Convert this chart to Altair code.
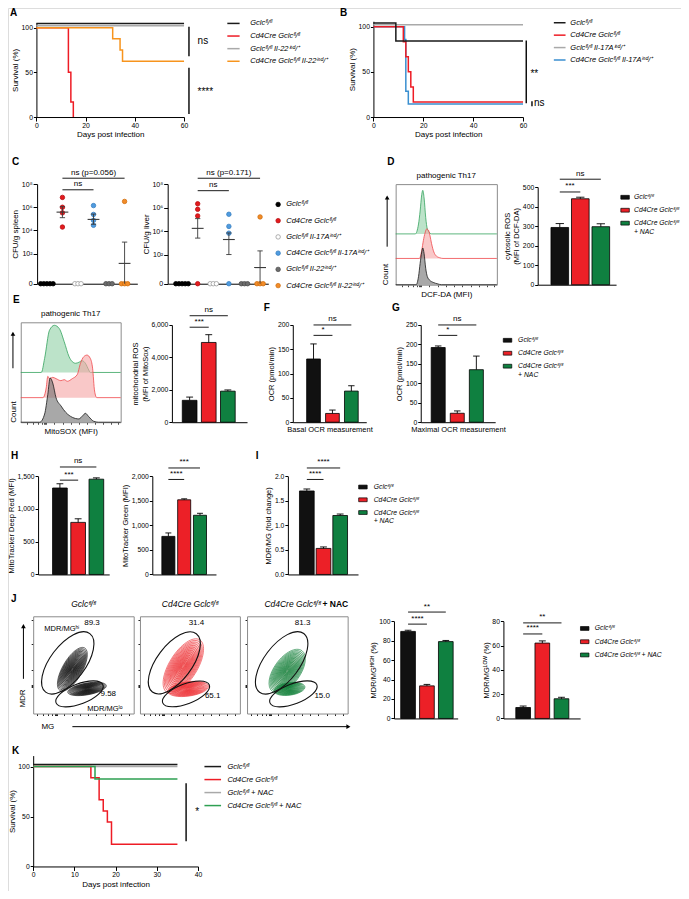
import math
import altair as alt
import pandas as pd

W, H = 673, 883
FONT = "Liberation Sans"
SX, SY = 337 / 344, 442 / 450
FR = "#8c8c8c"


def PX(x):
    return (x - 345) * SX + 337


def PY(y):
    return (y - 450) * SY + 442


FL = "ᶠˡ/ᶠˡ"
IND = "ⁱⁿᵈ/⁺"

# ---------------- data ----------------
A_LABELS = [f"Gclc{FL}", f"Cd4Cre Gclc{FL}", f"Gclc{FL} Il-22{IND}", f"Cd4Cre Gclc{FL} Il-22{IND}"]
A_COLORS = ["#1a1a1a", "#ee1c25", "#a9a9a9", "#f7941d"]
A_T = [[0, 60], [0, 13, 14, 15], [0, 60], [0, 31, 34, 35, 60]]
A_S = [[104.5, 104.5], [100, 50, 16.7, 0], [102, 102], [100, 87.5, 75, 62.5, 62.5]]
A_SIG = [[62, 68, 101, "ns", 65.5, 84.6], [62, 3.3, 55, "****", 65.5, 27.5]]

B_LABELS = [f"Gclc{FL}", f"Cd4Cre Gclc{FL}", f"Gclc{FL} Il-17A{IND}", f"Cd4Cre Gclc{FL} Il-17A{IND}"]
B_COLORS = ["#1a1a1a", "#ee1c25", "#a9a9a9", "#3a8fd0"]
B_T = [[0, 9, 60], [0, 12, 13, 14, 15, 16, 60], [0, 60], [0, 12.5, 13, 14, 60]]
B_S = [[104, 84, 84], [100, 83.3, 66.7, 50, 33.3, 16.7, 16.7], [102, 102], [100, 85.7, 28.6, 14.3, 14.3]]
B_SIG = [[61.3, 15.2, 84.8, "**", 63.0, 48], [63.6, 12, 17.4, "ns", 64.4, 15]]

K_LABELS = [f"Gclc{FL}", f"Cd4Cre Gclc{FL}", f"Gclc{FL} + NAC", f"Cd4Cre Gclc{FL} + NAC"]
K_COLORS = ["#1a1a1a", "#ee1c25", "#a9a9a9", "#2ea052"]
K_T = [[0, 35], [0, 14, 16, 17, 18, 19, 35], [0, 35], [0, 15, 35]]
K_S = [[102, 102], [100, 88.9, 66.7, 55.6, 44.4, 22.2, 22.2], [100, 100], [100, 87.5, 87.5]]
K_SIG = [[37.1, 25.3, 83.3, "*", 39.3, 54.8]]

C_GROUPS = [f"Gclc{FL}", f"Cd4Cre Gclc{FL}", f"Gclc{FL} Il-17A{IND}", f" Cd4Cre Gclc{FL} Il-17A{IND}",
            f"Gclc{FL} Il-22{IND}", f"Cd4Cre Gclc{FL} Il-22{IND}"]
C_FILL = ["#000000", "#e41a1c", "#ffffff", "#4f9be0", "#6d6d6d", "#f28c28"]
C_STROKE = ["#000000", "#b81015", "#9a9a9a", "#3a80c0", "#4d4d4d", "#d07010"]
SPLEEN = [[0, 0, 0, 0, 0], [7.1e6, 1.0e6, 3.3e5, 1.95e4], [0, 0, 0],
          [1.4e6, 2.4e5, 7.4e4, 2.75e4], [0, 0, 0], [3.2e6, 0, 0, 0]]
LIVER = [[0, 0, 0, 0, 0], [2.1e6, 7.1e5, 1.95e5, 0], [0, 0, 0],
         [2.7e5, 2.5e4, 6.6e3, 0], [0, 0, 0], [1.6e5, 0, 0, 0]]
SP_MEAN = [None, 5.58, None, 4.95, None, 1.15]
SP_LO = [None, 5.1, None, 4.53, None, None]
SP_HI = [None, 6.05, None, 5.41, None, 2.99]
LI_MEAN = [None, 4.23, None, 3.28, None, 0.89]
LI_LO = [None, 3.4, None, 2.0, None, None]
LI_HI = [None, 5.06, None, 3.84, None, 2.31]
SP_SIG = [["ns", 2, 4, 7.51], ["ns (p=0.056)", 2, 6, 8.51]]
LI_SIG = [["ns", 2, 4, 7.44], ["ns (p=0.171)", 2, 6, 8.5]]

GRP3 = [f"Gclc{FL}", f"Cd4Cre Gclc{FL}", f"Cd4Cre Gclc{FL}|+ NAC"]
GRP3J = [f"Gclc{FL}", f"Cd4Cre Gclc{FL}", f"Cd4Cre Gclc{FL} + NAC"]
COL3 = ["#111111", "#ec2027", "#0f8040"]

D_VALS, D_ERR = [293, 440, 297], [20, 8, 15]
E_VALS, E_ERR = [1350, 4920, 1915], [200, 480, 75]
F_VALS, F_ERR = [130, 18, 64], [31, 7, 11]
G_VALS, G_ERR = [192, 23, 135], [4, 6, 35]
H1_VALS, H1_ERR = [1320, 795, 1455], [65, 55, 20]
H2_VALS, H2_ERR = [775, 1520, 1205], [70, 20, 40]
I_VALS, I_ERR = [1.70, 0.53, 1.20], [0.04, 0.03, 0.03]
J1_VALS, J1_ERR = [89.5, 33.5, 79.0], [1.2, 1.5, 1.2]
J2_VALS, J2_ERR = [9.0, 62.0, 16.2], [1.2, 1.8, 1.2]

D_SIG = [["***", 1, 2, 474.8], ["ns", 1, 3, 540.2]]
E_SIG = [["***", 1, 2, 5861], ["ns", 1, 3, 6570]]
F_SIG = [["*", 1, 2, 178.6], ["ns", 1, 3, 200]]
G_SIG = [["*", 1, 2, 223.2], ["ns", 1, 3, 250]]
H1_SIG = [["***", 1, 2, 1440], ["ns", 1, 3, 1641]]
H2_SIG = [["****", 1, 2, 1934], ["***", 1, 3, 2168]]
I_SIG = [["****", 1, 2, 1.934], ["****", 1, 3, 2.168]]
J1_SIG = [["****", 1, 2, 97.0], ["**", 1, 3, 109.4]]
J2_SIG = [["****", 1, 2, 69.5], ["**", 1, 3, 78.6]]

D_HIST = [
    ([19.4, 22.6, 24.2, 25.8, 26.8, 28.1, 29.7, 31.3, 33.2, 35.5],
     [0, 9.8, 22.8, 39.1, 43.3, 35.8, 16.3, 4.9, 1.6, 0], 50.5),
    ([23.5, 25.8, 27.4, 29.0, 30.6, 32.3, 33.9, 35.5, 37.7, 40.3, 43.5, 46.8],
     [0, 8.1, 17.9, 25.1, 29.3, 28.3, 22.8, 14.7, 6.5, 2.3, 0.7, 0], 26.1),
    ([20.3, 22.6, 24.2, 25.8, 26.8, 28.1, 29.7, 31.3, 33.9, 37.1, 41.9, 45.2],
     [0, 8.1, 21.2, 32.6, 36.5, 30.9, 16.3, 8.1, 4.2, 2.3, 0.7, 0], 0),
]
E_HIST = [
    ([20.6, 23.9, 28.8, 33.7, 38.6, 43.5, 48.4, 51.6, 54.9, 58.2, 61.4, 64.7, 68.0, 69.6],
     [0, 14.1, 42.3, 47.2, 43.9, 30.8, 15.7, 10.8, 9.2, 10.2, 11.8, 9.2, 2.6, 0], 49.8),
    ([22.2, 25.5, 27.1, 28.8, 32.0, 35.3, 40.2, 43.5, 46.7, 51.6, 56.5, 59.8, 63.1, 66.3, 69.6, 71.9, 73.9, 76.1],
     [0, 9.8, 21.3, 19.0, 20.3, 19.0, 17.0, 18.0, 16.4, 19.0, 23.0, 34.4, 41.0, 42.6, 39.3, 29.5, 6.6, 0], 24.6),
    ([19.0, 23.9, 27.1, 29.4, 32.0, 35.3, 40.2, 45.1, 51.6, 58.2, 62.1, 64.7, 68.0, 72.9, 77.8],
     [0, 8.2, 27.9, 44.3, 39.3, 24.6, 16.4, 9.8, 4.9, 3.3, 6.6, 8.9, 5.6, 1.0, 0], 0),
]
HIST_FILL = ["#8fd0a5", "#f5a3a3", "#6e6e6e"]
HIST_LINE = ["#35a35e", "#f0474b", "#1a1a1a"]

GATES = [[34.4, 52.1, 73, 0.48, 53], [46.1, 20.2, 50, 0.40, 21]]
BLOBS = [
    [[39.0, 45.5, 49, 0.40, 60], [53.6, 25.3, 39, 0.30, 10]],
    [[43.4, 48.8, 62, 0.45, 58], [48.3, 25.3, 41, 0.35, 8]],
    [[39.9, 43.7, 50, 0.52, 54], [42.2, 25.3, 31, 0.40, 8]],
]
LEVELS = [1.0, 0.94, 0.88, 0.82, 0.76, 0.70, 0.64, 0.58, 0.52, 0.46, 0.40, 0.34, 0.28, 0.22, 0.16, 0.1]
J_COLORS = ["#151515", "#ee3338", "#17833f"]
J_PCT = [["89.3", "9.58"], ["31.4", "65.1"], ["81.3", "15.0"]]
J_PCT_U = [[58.5, 74.7], [56.5, 72.8], [55.2, 74.7]]
J_PCT_V = [[93.2, 20.2], [93.2, 18.5], [93.2, 18.5]]
J_BOXES = [(26.7, 619.3, 129.3, 718.3), (135.7, 619.3, 237.7, 718.3), (245, 619.3, 347.7, 718.3)]

LETTERS = ["A", "B", "C", "D", "E", "F", "G", "H", "I", "J", "K"]
LET_X = [3, 340, 5, 388, 6, 262, 393, 4, 254, 4, 5]
LET_Y = [5, 5, 157, 157, 297, 305, 305, 456, 456, 602, 756]

# ---------------- helpers ----------------
AXS = dict(grid=False, domainColor="#000", domainWidth=1, tickColor="#000", tickWidth=1, tickSize=3,
           labelFont=FONT, labelFontSize=6.8, labelColor="#000", labelPadding=1, labelFlush=False,
           titleFont=FONT, titleFontSize=7.5, titleFontWeight="normal", titleColor="#000", titlePadding=1.5)


def _ax(orient, off, kw):
    d = dict(AXS)
    d.update(kw)
    return alt.Axis(orient=orient, offset=off, **d)


def ax_left(x, **kw):
    return _ax("left", -PX(x), kw)


def ax_bottom(y, **kw):
    return _ax("bottom", PY(y) - H, kw)


def ax_top(y, **kw):
    return _ax("top", -PY(y), kw)


def ax_right(x, **kw):
    return _ax("right", PX(x) - W, kw)


def xsc(dom, a, b):
    return alt.Scale(domain=dom, range=[PX(a), PX(b)], nice=False, zero=False)


def ysc(dom, bottom, top):
    return alt.Scale(domain=dom, range=[PY(bottom), PY(top)], nice=False, zero=False)


def panel(*layers):
    return alt.layer(*layers).resolve_axis(x="independent", y="independent")


def legend(x_sym_left, sym_w, y_row1, text_x, spacing, size, stroke_w, **kw):
    cell = max(math.ceil(math.sqrt(size) + stroke_w), kw.get("labelFontSize", 7.5))
    lx = PX(x_sym_left) - (cell - sym_w * SX) / 2
    ly = PY(y_row1) - cell / 2
    d = dict(orient="none", legendX=lx, legendY=ly, title=None, padding=0, labelLimit=0,
             labelFont=FONT, labelFontSize=7.5, labelFontStyle="italic", labelColor="#000",
             symbolSize=size, symbolStrokeWidth=stroke_w,
             labelOffset=PX(text_x) - lx - cell, rowPadding=spacing * SY - cell)
    d.update(kw)
    return alt.Legend(**d)


def text_chart(df, xs, ys, **mk):
    m = dict(font=FONT, fontSize=7.5, color="#000")
    m.update(mk)
    return alt.Chart(df).mark_text(**m).encode(
        x=alt.X("x:Q", scale=xs, axis=None), y=alt.Y("y:Q", scale=ys, axis=None), text="lab:N")


def sig_layers(sig, xs, ys, size=8):
    df = pd.DataFrame(sig, columns=["lab", "g1", "g2", "yv"])
    r = alt.Chart(df).mark_rule(color="#000", strokeWidth=0.9).encode(
        x=alt.X("g1:Q", scale=xs, axis=None), x2="g2:Q", y=alt.Y("yv:Q", scale=ys, axis=None))
    t = alt.Chart(df).transform_calculate(xm="(datum.g1 + datum.g2) / 2").mark_text(
        font=FONT, fontSize=size, baseline="bottom", dy=-1.5, color="#000").encode(
        x=alt.X("xm:Q", scale=xs, axis=None), y=alt.Y("yv:Q", scale=ys, axis=None), text="lab:N")
    return [r, t]


# ---------------- survival ----------------
def survival(labels, colors, T, S, order, g, sig, leg):
    xs = xsc([0, g["tmax"]], g["x0"], g["x1"])
    ppu = (g["y0"] - g["y100"]) / 100
    ys = ysc([0, g["ymax"]], g["y0"], g["y0"] - g["ymax"] * ppu)
    cs = alt.Scale(domain=labels, range=colors)
    layers = []
    for k, i in enumerate(order):
        df = pd.DataFrame({"t": T[i], "s": S[i], "grp": labels[i]})
        first = k == 0
        layers.append(alt.Chart(df).mark_line(interpolate="step-after", strokeWidth=1.5).encode(
            x=alt.X("t:Q", scale=xs, axis=(ax_bottom(g["y0"], values=g["xt"], title="Days post infection",
                                                      tickSize=4, titlePadding=2, titleFontSize=8)
                                            if first else None)),
            y=alt.Y("s:Q", scale=ys, axis=(ax_left(g["x0"], values=[0, 50, 100], title="Survival (%)",
                                                    tickSize=3, titleFontSize=8) if first else None)),
            color=alt.Color("grp:N", scale=cs, legend=(leg if first else None))))
    sdf = pd.DataFrame(sig, columns=["t", "y1", "y2", "lab", "tt", "ty"])
    layers.append(alt.Chart(sdf).mark_rule(color="#000", strokeWidth=1.4).encode(
        x=alt.X("t:Q", scale=xs, axis=None), y=alt.Y("y1:Q", scale=ys, axis=None), y2="y2:Q"))
    layers.append(alt.Chart(sdf).mark_text(font=FONT, fontSize=10, align="left", baseline="middle",
                                            color="#000").encode(
        x=alt.X("tt:Q", scale=xs, axis=None), y=alt.Y("ty:Q", scale=ys, axis=None), text="lab:N"))
    return panel(*layers)


# ---------------- CFU dot plots ----------------
def cfu(values, mean, lo, hi, g, sig, ytitle, leg):
    unit = (g["c6"] - g["c1"]) / 5
    xs = xsc([1 - (g["c1"] - g["ax"]) / unit, 6 + (g["xe"] - g["c6"]) / unit], g["ax"], g["xe"])
    dec = (g["y2"] - g["y8"]) / 6
    zero = 2 - (g["yz"] - g["y2"]) / dec
    ys = ysc([zero, 8], g["yz"], g["y8"])
    rows = [(C_GROUPS[i], i + 1, v) for i, vs in enumerate(values) for v in vs]
    df = pd.DataFrame(rows, columns=["grp", "idx", "cfu"])
    fs = alt.Scale(domain=C_GROUPS, range=C_FILL)
    ss = alt.Scale(domain=C_GROUPS, range=C_STROKE)
    lab = ("datum.value < 1 ? '0' : '10' + (datum.value == 2 ? '²' : datum.value == 4 ? '⁴' : "
           "datum.value == 6 ? '⁶' : '⁸')")
    pts = alt.Chart(df).transform_calculate(
        ly=f"datum.cfu > 0 ? log(datum.cfu) / LN10 : {zero}"
    ).transform_joinaggregate(n="count()", groupby=["grp", "ly"]).transform_window(
        r="row_number()", groupby=["grp", "ly"]
    ).transform_calculate(xo="datum.idx + (datum.r - (datum.n + 1) / 2) * 0.2").mark_point(
        filled=True, shape="circle", size=20, strokeWidth=0.8, opacity=1).encode(
        x=alt.X("xo:Q", scale=xs, axis=ax_bottom(g["yz"], ticks=False, labels=False, title=None)),
        y=alt.Y("ly:Q", scale=ys, axis=ax_left(g["ax"], values=[zero, 2, 4, 6, 8], labelExpr=lab,
                                                title=ytitle, tickSize=4, titleFontSize=8,
                                                labelFontSize=7)),
        fill=alt.Fill("grp:N", scale=fs, legend=leg),
        stroke=alt.Stroke("grp:N", scale=ss, legend=leg))
    mrows = [(i + 1, mean[i], zero if lo[i] is None else lo[i], hi[i], lo[i] is not None)
             for i in range(6) if mean[i] is not None]
    mdf = pd.DataFrame(mrows, columns=["idx", "m", "lo", "hi", "haslo"])
    base = alt.Chart(mdf).transform_calculate(
        a="datum.idx - 0.38", b="datum.idx + 0.38", ca="datum.idx - 0.17", cb="datum.idx + 0.17")
    col = "#3a3a3a"
    vr = base.mark_rule(color=col, strokeWidth=0.9).encode(
        x=alt.X("idx:Q", scale=xs, axis=None), y=alt.Y("lo:Q", scale=ys, axis=None), y2="hi:Q")
    mr = base.mark_rule(color=col, strokeWidth=1.1).encode(
        x=alt.X("a:Q", scale=xs, axis=None), x2="b:Q", y=alt.Y("m:Q", scale=ys, axis=None))
    hc = base.mark_rule(color=col, strokeWidth=0.9).encode(
        x=alt.X("ca:Q", scale=xs, axis=None), x2="cb:Q", y=alt.Y("hi:Q", scale=ys, axis=None))
    lc = base.transform_filter("datum.haslo").mark_rule(color=col, strokeWidth=0.9).encode(
        x=alt.X("ca:Q", scale=xs, axis=None), x2="cb:Q", y=alt.Y("lo:Q", scale=ys, axis=None))
    return panel(pts, vr, mr, hc, lc, *sig_layers(sig, xs, ys))


# ---------------- bar charts ----------------
def bars(vals, errs, labels, g, sig, ytitle, xtitle=None, leg=None, fmt=None):
    unit = (g["c3"] - g["c1"]) / 2
    xs = xsc([1 - (g["c1"] - g["ax"]) / unit, 3 + (g["xe"] - g["c3"]) / unit], g["ax"], g["xe"])
    ys = ysc([0, g["vmax"]], g["y0"], g["yt"])
    cap = g["bw"] * 0.27 / unit
    df = pd.DataFrame({"grp": labels, "pos": [1, 2, 3], "val": vals, "err": errs})
    cs = alt.Scale(domain=labels, range=COL3)
    yk = dict(values=g["ticks"], title=ytitle, tickSize=3)
    if fmt:
        yk["format"] = fmt
    bar = alt.Chart(df).mark_bar(size=g["bw"] * SX, stroke="#000", strokeWidth=0.8).encode(
        x=alt.X("pos:Q", scale=xs, axis=ax_bottom(g["y0"], ticks=False, labels=False, title=xtitle,
                                                   titlePadding=3)),
        y=alt.Y("val:Q", scale=ys, axis=ax_left(g["ax"], **yk)),
        fill=alt.Fill("grp:N", scale=cs, legend=leg))
    base = alt.Chart(df).transform_calculate(
        top="datum.val + datum.err", cl=f"datum.pos - {cap}", cr=f"datum.pos + {cap}")
    eb = base.mark_rule(color="#000", strokeWidth=0.9).encode(
        x=alt.X("pos:Q", scale=xs, axis=None), y=alt.Y("val:Q", scale=ys, axis=None), y2="top:Q")
    ec = base.mark_rule(color="#000", strokeWidth=0.9).encode(
        x=alt.X("cl:Q", scale=xs, axis=None), x2="cr:Q", y=alt.Y("top:Q", scale=ys, axis=None))
    return panel(bar, eb, ec, *sig_layers(sig, xs, ys))


def bar_legend(sym_cx, y_row1, text_x, spacing, **kw):
    size = 72
    return legend(sym_cx - 4.25, 8.5, y_row1, text_x, spacing, size, 0.7,
                  symbolType="M-1,-0.45H1V0.45H-1Z", symbolStrokeColor="#000", labelFontSize=6.8, **kw)


# ---------------- frames (hist / flow boxes) ----------------
def frame(xs, ys, box, bottom_kw, left_kw):
    l, t, r, b = box
    df = pd.DataFrame({"x": [0, 100], "y": [0, 100]})
    f1 = alt.Chart(df).mark_point(opacity=0).encode(
        x=alt.X("x:Q", scale=xs, axis=ax_bottom(b, domainColor=FR, **bottom_kw)),
        y=alt.Y("y:Q", scale=ys, axis=ax_left(l, domainColor=FR, **left_kw)))
    f2 = alt.Chart(df).mark_point(opacity=0).encode(
        x=alt.X("x:Q", scale=xs, axis=ax_top(t, ticks=False, labels=False, title=None, domainColor=FR)),
        y=alt.Y("y:Q", scale=ys, axis=ax_right(r, ticks=False, labels=False, title=None, domainColor=FR)))
    return [f1, f2]


def arrow(xs, ys, x1, y1, x2, y2, shape):
    df = pd.DataFrame({"x": [x1], "y": [y1], "x2": [x2], "y2": [y2]})
    ln = alt.Chart(df).mark_rule(color="#000", strokeWidth=1).encode(
        x=alt.X("x:Q", scale=xs, axis=None), x2="x2:Q", y=alt.Y("y:Q", scale=ys, axis=None), y2="y2:Q")
    hd = alt.Chart(df).mark_point(shape=shape, filled=True, size=22, color="#000", opacity=1).encode(
        x=alt.X("x2:Q", scale=xs, axis=None), y=alt.Y("y2:Q", scale=ys, axis=None))
    return [ln, hd]


HIST_TICKS = [6, 12, 17, 21, 23, 24, 25, 33, 42, 50, 58, 66, 74, 82, 90, 97]


def hist(box, curves, xlabel, count_pad, arr):
    l, t, r, b = box
    xs = xsc([0, 100], l, r)
    ys = ysc([0, 100], b, t)
    layers = []
    for k, (cx, ch, base) in enumerate(curves):
        df = pd.DataFrame({"x": [0] + cx + [100], "h": [0] + ch + [0]})
        df["base"] = base
        c = alt.Chart(df).transform_calculate(top="datum.base + datum.h")
        layers.append(c.mark_area(interpolate="monotone", color=HIST_FILL[k], opacity=0.6).encode(
            x=alt.X("x:Q", scale=xs, axis=None), y=alt.Y("top:Q", scale=ys, axis=None), y2="base:Q"))
        layers.append(c.mark_line(interpolate="monotone", color=HIST_LINE[k], strokeWidth=0.8).encode(
            x=alt.X("x:Q", scale=xs, axis=None), y=alt.Y("top:Q", scale=ys, axis=None)))
    layers += frame(xs, ys, box,
                    dict(values=HIST_TICKS, labels=False, tickSize=2, tickColor="#444", title=xlabel,
                         titlePadding=3, titleFontSize=8),
                    dict(ticks=False, labels=False, title="Count", titleAnchor="start", titlePadding=count_pad,
                         titleFontSize=8))
    layers += arrow(xs, ys, arr[0], arr[1], arr[0], arr[2], "triangle-up")
    tdf = pd.DataFrame({"x": [50], "y": [108], "lab": ["pathogenic Th17"]})
    layers.append(text_chart(tdf, xs, ys, fontSize=8, baseline="middle"))
    return panel(*layers)


def ellipse_path(r):
    return f"M-1,0A1,{r} 0 1,0 1,0A1,{r} 0 1,0 -1,0Z"


def flow(k):
    box = J_BOXES[k]
    l, t, r, b = box
    xs = xsc([0, 100], l, r)
    ys = ysc([0, 100], b, t)
    bw = PX(r) - PX(l)
    sz = alt.Scale(type="pow", exponent=2, domain=[0, 100], range=[0, bw * bw])
    rows = []
    for (u, v, d, rr, tilt) in BLOBS[k]:
        for f in LEVELS:
            rows.append((u, v, d * f, 360 - tilt, ellipse_path(rr)))
    cdf = pd.DataFrame(rows, columns=["x", "y", "d", "rot", "path"])
    cont = alt.Chart(cdf).mark_point(filled=True, fill=J_COLORS[k], fillOpacity=0.07, stroke=J_COLORS[k],
                                     strokeOpacity=0.95, strokeWidth=0.6).encode(
        x=alt.X("x:Q", scale=xs, axis=None), y=alt.Y("y:Q", scale=ys, axis=None),
        size=alt.Size("d:Q", scale=sz, legend=None),
        angle=alt.Angle("rot:Q", scale=None),
        shape=alt.Shape("path:N", scale=None))
    gdf = pd.DataFrame([(u, v, d, 360 - tilt, ellipse_path(rr)) for (u, v, d, rr, tilt) in GATES],
                       columns=["x", "y", "d", "rot", "path"])
    gate = alt.Chart(gdf).mark_point(filled=False, strokeWidth=1.1, color="#111", opacity=1).encode(
        x=alt.X("x:Q", scale=xs, axis=None), y=alt.Y("y:Q", scale=ys, axis=None),
        size=alt.Size("d:Q", scale=sz, legend=None),
        angle=alt.Angle("rot:Q", scale=None),
        shape=alt.Shape("path:N", scale=None))
    pdf = pd.DataFrame({"x": J_PCT_U[k], "y": J_PCT_V[k], "lab": J_PCT[k]})
    layers = [cont, gate, text_chart(pdf, xs, ys, fontSize=8, baseline="middle")]
    layers += frame(xs, ys, box,
                    dict(values=[4, 10, 15, 19, 22, 23, 24, 31, 39, 47, 55, 63, 71, 79, 87, 95],
                         labels=False, tickSize=2, tickColor="#222", title=None),
                    dict(values=[27, 28, 29, 45, 71, 96], labels=False, tickSize=2, tickColor="#222",
                         title=None))
    if k == 0:
        t1 = pd.DataFrame({"x": [50], "y": [112.7], "lab": [f"Gclc{FL}"]})
        layers.append(text_chart(t1, xs, ys, fontSize=8.5, fontStyle="italic", baseline="middle"))
        gl = pd.DataFrame({"x": [28.6, 71.4], "y": [86.5, 5.1], "lab": ["MDR/MGʰⁱ", "MDR/MGˡᵒ"]})
        layers.append(text_chart(gl, xs, ys, fontSize=7.5, baseline="middle"))
        layers += arrow(xs, ys, -9.7, 35.7, -9.7, 89.9, "triangle-up")
        layers += arrow(xs, ys, 39, -13.5, 313.6, -13.5, "triangle-right")
        ml = pd.DataFrame({"x": [-9.7], "y": [15.5], "lab": ["MDR"]})
        layers.append(text_chart(ml, xs, ys, fontSize=8, angle=270, baseline="middle"))
        gl2 = pd.DataFrame({"x": [14.6], "y": [-13.5], "lab": ["MG"]})
        layers.append(text_chart(gl2, xs, ys, fontSize=8, baseline="middle"))
    elif k == 1:
        t1 = pd.DataFrame({"x": [50], "y": [112.7], "lab": [f"Cd4Cre Gclc{FL}"]})
        layers.append(text_chart(t1, xs, ys, fontSize=8.5, fontStyle="italic", baseline="middle"))
    else:
        t1 = pd.DataFrame({"x": [73], "y": [112.7], "lab": [f"Cd4Cre Gclc{FL}"]})
        layers.append(text_chart(t1, xs, ys, fontSize=8.5, fontStyle="italic", baseline="middle", align="right"))
        t2 = pd.DataFrame({"x": [75], "y": [112.7], "lab": ["+ NAC"]})
        layers.append(text_chart(t2, xs, ys, fontSize=8.5, fontWeight="bold", baseline="middle", align="left"))
    return panel(*layers)


# ---------------- build panels ----------------
panels = []

panels.append(survival(A_LABELS, A_COLORS, A_T, A_S, [1, 3, 2, 0],
                       dict(x0=30, x1=180.7, tmax=60, y0=111, y100=20, ymax=105.5, xt=[0, 20, 40, 60]),
                       A_SIG, legend(225, 12.3, 15.7, 248.3, 15.9, 151, 1.5, symbolType="stroke")))
panels.append(survival(B_LABELS, B_COLORS, B_T, B_S, [3, 1, 2, 0],
                       dict(x0=374, x1=526.7, tmax=60, y0=111, y100=19, ymax=106, xt=[0, 20, 40, 60]),
                       B_SIG, legend(558.3, 11.7, 15, 575, 15.7, 137, 1.5, symbolType="stroke")))
panels.append(survival(K_LABELS, K_COLORS, K_T, K_S, [2, 0, 1, 3],
                       dict(x0=26.7, x1=195, tmax=40, y0=874, y100=772.3, ymax=111, xt=[0, 10, 20, 30, 40]),
                       K_SIG, legend(201.7, 16.6, 772.3, 225, 16.2, 276, 1.5, symbolType="stroke")))

panels.append(cfu(SPLEEN, SP_MEAN, SP_LO, SP_HI,
                  dict(ax=30.7, xe=133, c1=40.7, c6=120, yz=280.7, y8=179.3, y2=250),
                  SP_SIG, "CFU/g spleen", None))
panels.append(cfu(LIVER, LI_MEAN, LI_LO, LI_HI,
                  dict(ax=164, xe=266.7, c1=178.7, c6=258.3, yz=280.7, y8=179.3, y2=251),
                  LI_SIG, "CFU/g liver",
                  legend(274.5, 4.5, 200, 285, 15, 20, 0.8, symbolType="circle")))

panels.append(hist((396.7, 179.3, 500, 281.7), D_HIST, "DCF-DA (MFI)", 6, (-8.4, 37.8, 86.6)))
panels.append(hist((14, 320, 116, 421.7), E_HIST, "MitoSOX (MFI)", 3, (-7.8, 54, 88.5)))

panels.append(bars(D_VALS, D_ERR, GRP3,
                   dict(ax=541.7, xe=621.7, c1=561.7, c3=609.7, y0=281.7, yt=182.3, vmax=500,
                        ticks=[0, 100, 200, 300, 400, 500], bw=18),
                   D_SIG, ["cytosolic ROS", "(MFI of DCF-DA)"],
                   leg=bar_legend(630.9, 192.7, 640, 14.2, labelExpr="split(datum.label, '|')")))
panels.append(bars(E_VALS, E_ERR, GRP3,
                   dict(ax=168.3, xe=245, c1=183.3, c3=228.3, y0=421.7, yt=322.7, vmax=6000,
                        ticks=[0, 2000, 4000, 6000], bw=15),
                   E_SIG, ["mitochondrial ROS", "(MFI of MitoSox)"]))
panels.append(bars(F_VALS, F_ERR, GRP3,
                   dict(ax=291.7, xe=366.7, c1=310.3, c3=355, y0=421.7, yt=322.7, vmax=200,
                        ticks=[0, 50, 100, 150, 200], bw=14),
                   F_SIG, "OCR (pmol/min)", xtitle="Basal OCR measurement"))
panels.append(bars(G_VALS, G_ERR, GRP3,
                   dict(ax=422.3, xe=498.3, c1=437, c3=482, y0=421.7, yt=322.7, vmax=250,
                        ticks=[0, 50, 100, 150, 200, 250], bw=14.3),
                   G_SIG, "OCR (pmol/min)", xtitle="Maximal OCR measurement",
                   leg=bar_legend(510.9, 338.3, 521.7, 14.2, labelExpr="split(datum.label, '|')")))
panels.append(bars(H1_VALS, H1_ERR, GRP3,
                   dict(ax=31.7, xe=104.3, c1=51.7, c3=95, y0=576.7, yt=476.7, vmax=1500,
                        ticks=[0, 500, 1000, 1500], bw=15),
                   H1_SIG, "MitoTracker Deep Red (MFI)"))
panels.append(bars(H2_VALS, H2_ERR, GRP3,
                   dict(ax=148.3, xe=213.3, c1=161.7, c3=200, y0=576.7, yt=476.7, vmax=2000,
                        ticks=[0, 500, 1000, 1500, 2000], bw=13.3),
                   H2_SIG, "MitoTracker Green (MFI)"))
panels.append(bars(I_VALS, I_ERR, GRP3,
                   dict(ax=286.7, xe=358.3, c1=303.3, c3=343, y0=576.7, yt=476.7, vmax=2.0,
                        ticks=[0, 0.5, 1.0, 1.5, 2.0], bw=15),
                   I_SIG, "MDR/MG (fold change)", fmt=".1f",
                   leg=bar_legend(363.3, 487.7, 374.3, 14, labelExpr="split(datum.label, '|')")))
panels.append(bars(J1_VALS, J1_ERR, GRP3J,
                   dict(ax=395, xe=460, c1=406, c3=451.7, y0=723.3, yt=624.3, vmax=100,
                        ticks=[0, 20, 40, 60, 80, 100], bw=15),
                   J1_SIG, "MDR/MGᴴᴵᴳᴴ (%)"))
panels.append(bars(J2_VALS, J2_ERR, GRP3J,
                   dict(ax=506.7, xe=585, c1=524, c3=569, y0=723.3, yt=624.3, vmax=80,
                        ticks=[0, 20, 40, 60, 80], bw=15),
                   J2_SIG, "MDR/MGᴸᴼᵂ (%)",
                   leg=bar_legend(589.7, 631.7, 600, 14.5)))

for k in range(3):
    panels.append(flow(k))

ldf = pd.DataFrame({"x": LET_X, "y": LET_Y, "lab": LETTERS})
pxs = alt.Scale(domain=[0, 689], range=[PX(0), PX(689)], nice=False, zero=False)
pys = alt.Scale(domain=[0, 899], range=[PY(0), PY(899)], nice=False, zero=False)
panels.append(alt.Chart(ldf).mark_text(font=FONT, fontSize=10, fontWeight="bold", align="left",
                                       baseline="middle", color="#000").encode(
    x=alt.X("x:Q", scale=pxs, axis=None), y=alt.Y("y:Q", scale=pys, axis=None), text="lab:N"))

chart = alt.layer(*panels).resolve_scale(
    x="independent", y="independent", color="independent", fill="independent",
    stroke="independent", size="independent"
).properties(
    width=W, height=H, padding=0, autosize=alt.AutoSizeParams(type="none")
).configure_view(strokeWidth=0).configure(font=FONT)

chart.save("out.html", embed_options={"renderer": "svg", "actions": False})
